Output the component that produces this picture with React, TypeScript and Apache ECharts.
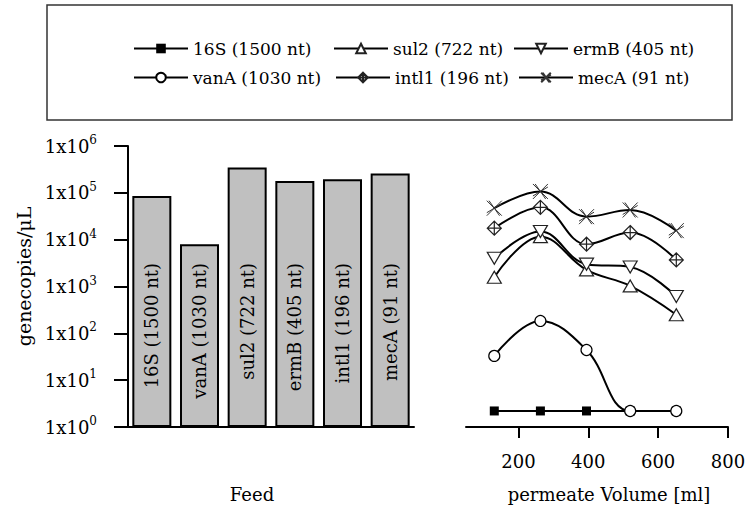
import React, { useEffect, useRef } from "react";
import * as echarts from "echarts";

const categories = ["16S (1500 nt)", "vanA (1030 nt)", "sul2 (722 nt)", "ermB (405 nt)", "intl1 (196 nt)", "mecA (91 nt)"];
const feedValues = [86000, 8000, 347000, 180000, 196000, 260000];

const volumes = [131, 263, 395, 520, 652];
const s16S = [2.2, 2.2, 2.2, 2.2, 2.2];
const sVanA = [33, 184, 44, 2.2, 2.2];
const sSul2 = [1580, 11600, 2260, 1030, 250];
const sErmB = [4000, 14900, 3000, 2600, 610];
const sIntl1 = [17600, 49000, 8000, 14200, 3700];
const sMecA = [47000, 107000, 31000, 43000, 15600];

const volumeTicks = [200, 400, 600, 800];
const yExponents = [0, 1, 2, 3, 4, 5, 6];

const FONT = "DejaVu Serif";

const pairs = (ys: number[]) => volumes.map((v, i) => [v, ys[i]]);

export default function App() {
  const ref = useRef<HTMLDivElement>(null);
  useEffect(() => {
    if (!ref.current) return;
    const chart = echarts.init(ref.current, null, { renderer: "svg" });
    const lineBase = {
      type: "line" as const,
      xAxisIndex: 1,
      yAxisIndex: 1,
      smooth: 0.4,
      lineStyle: { color: "#000", width: 2 },
      emphasis: { disabled: true },
    };
    const openStyle = { color: "#fff", borderColor: "#222", borderWidth: 1.2 };
    const legendPos: [string, number, number][] = [
      ["16S (1500 nt)", 133, 50],
      ["sul2 (722 nt)", 333, 50],
      ["ermB (405 nt)", 513, 50],
      ["vanA (1030 nt)", 133, 79],
      ["intl1 (196 nt)", 335, 79],
      ["mecA (91 nt)", 518, 79],
    ];
    chart.setOption({
      animation: false,
      graphic: [
        {
          type: "rect",
          silent: true,
          shape: { x: 47, y: 5, width: 685, height: 115 },
          style: { fill: "none", stroke: "#333", lineWidth: 1.5 },
        },
      ],
      legend: legendPos.map(([name, x, y]) => ({
        data: [name],
        left: x,
        top: y - 10,
        padding: 0,
        itemWidth: 54,
        itemHeight: 12,
        selectedMode: false,
        textStyle: { fontFamily: FONT, fontSize: 17, color: "#000" },
      })),
      grid: [
        { left: 128, top: 146, width: 286, height: 281 },
        { left: 466, top: 146, width: 262, height: 281 },
      ],
      xAxis: [
        {
          type: "category",
          gridIndex: 0,
          data: categories,
          axisLine: { lineStyle: { color: "#000", width: 2 } },
          axisTick: { show: false },
          axisLabel: {
            inside: true,
            rotate: 90,
            align: "right",
            verticalAlign: "middle",
            margin: 164,
            interval: 0,
            fontFamily: FONT,
            fontSize: 18,
            color: "#000",
          },
          name: "Feed",
          nameLocation: "middle",
          nameGap: 58,
          nameTextStyle: { fontFamily: FONT, fontSize: 18, color: "#000", padding: [0, 38, 0, 0] },
          z: 10,
        },
        {
          type: "value",
          gridIndex: 1,
          min: 50,
          max: 800,
          axisLine: { lineStyle: { color: "#000", width: 2 } },
          axisTick: { show: true, length: 11, lineStyle: { width: 2, color: "#000" }, customValues: volumeTicks },
          axisLabel: { customValues: volumeTicks, margin: 25, fontFamily: FONT, fontSize: 18, color: "#000" },
          splitLine: { show: false },
          name: "permeate Volume [ml]",
          nameLocation: "middle",
          nameGap: 58,
          nameTextStyle: { fontFamily: FONT, fontSize: 18, color: "#000", padding: [0, 0, 0, 24] },
        },
      ],
      yAxis: [
        {
          type: "log",
          gridIndex: 0,
          logBase: 10,
          min: Math.pow(10, yExponents[0]),
          max: Math.pow(10, yExponents[yExponents.length - 1]),
          interval: 1,
          axisLine: { show: true, lineStyle: { color: "#000", width: 2 } },
          axisTick: { show: true, length: 14, lineStyle: { width: 2, color: "#000" } },
          splitLine: { show: false },
          axisLabel: {
            margin: 31,
            formatter: (v: number) => `{b|1x10}{s|${Math.round(Math.log10(v))}}`,
            rich: {
              b: { fontFamily: FONT, fontSize: 18, color: "#000" },
              s: { fontFamily: FONT, fontSize: 12, color: "#000", padding: [0, 0, 12, 0] },
            },
          },
          name: "genecopies/μL",
          nameLocation: "middle",
          nameRotate: 90,
          nameGap: 95,
          nameTextStyle: { fontFamily: FONT, fontSize: 19, color: "#000", padding: [0, 0, 0, 20] },
        },
        {
          type: "log",
          gridIndex: 1,
          logBase: 10,
          min: 1,
          max: 1e6,
          show: false,
        },
      ],
      series: [
        {
          type: "bar",
          xAxisIndex: 0,
          yAxisIndex: 0,
          data: feedValues,
          barWidth: 39,
          itemStyle: { color: "#c0c0c0", borderColor: "#000", borderWidth: 2 },
          emphasis: { disabled: true },
        },
        {
          ...lineBase,
          name: "16S (1500 nt)",
          data: pairs(s16S),
          symbol: "rect",
          symbolSize: 9,
          itemStyle: { color: "#000", borderColor: "#000", borderWidth: 0 },
        },
        {
          ...lineBase,
          name: "vanA (1030 nt)",
          data: pairs(sVanA),
          symbol: "circle",
          symbolSize: 11,
          itemStyle: { ...openStyle, borderColor: "#000" },
        },
        {
          ...lineBase,
          name: "sul2 (722 nt)",
          data: pairs(sSul2),
          symbol: "triangle",
          symbolSize: [14, 12],
          itemStyle: openStyle,
        },
        {
          ...lineBase,
          name: "ermB (405 nt)",
          data: pairs(sErmB),
          symbol: "triangle",
          symbolRotate: 180,
          symbolSize: [14, 12],
          itemStyle: openStyle,
        },
        {
          ...lineBase,
          name: "intl1 (196 nt)",
          data: pairs(sIntl1),
          symbol: "path://M0,-1 L1,0 L0,1 L-1,0 Z M0,-1 L0,1 M-1,0 L1,0",
          symbolSize: 14,
          itemStyle: openStyle,
        },
        {
          ...lineBase,
          name: "mecA (91 nt)",
          data: pairs(sMecA),
          symbol: "path://M-1,-1 L1,1 M-1,1 L1,-1 M-0.7,-1 L0.7,1 M-1,0.6 L1,-0.6",
          symbolSize: 15,
          itemStyle: { color: "none", borderColor: "#333", borderWidth: 1 },
        },
      ],
    });
    return () => chart.dispose();
  }, []);
  return <div ref={ref} style={{ width: 752, height: 511, position: "absolute", left: 0, top: 0 }} />;
}
